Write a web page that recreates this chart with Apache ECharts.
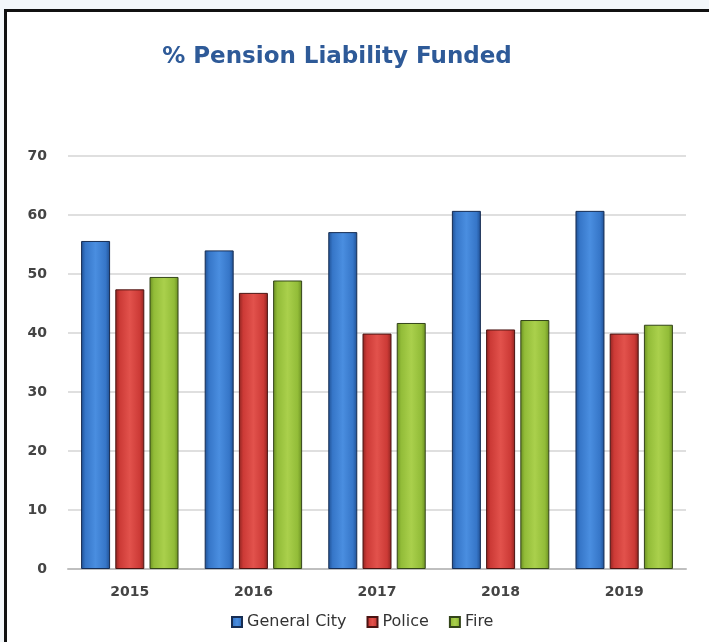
<!DOCTYPE html>
<html>
<head>
<meta charset="utf-8">
<script src="https://cdn.jsdelivr.net/npm/echarts@6/dist/echarts.min.js"></script>
<style>
  html, body { margin: 0; padding: 0; background: #fff; }
  #chart { width: 709px; height: 642px; }
</style>
</head>
<body>
<div id="chart"></div>
<script>
var years = ['2015', '2016', '2017', '2018', '2019'];
var generalCity = [55.6, 54.0, 57.1, 60.7, 60.7];
var police = [47.4, 46.8, 39.9, 40.6, 39.9];
var fire = [49.5, 48.9, 41.7, 42.2, 41.4];
var yTicks = [0, 10, 20, 30, 40, 50, 60, 70];

function barFill(edge, mid, light) {
    return new echarts.graphic.LinearGradient(0, 0, 1, 0, [
        { offset: 0, color: edge },
        { offset: 0.15, color: mid },
        { offset: 0.5, color: light },
        { offset: 0.85, color: mid },
        { offset: 1, color: edge }
    ]);
}

var chart = echarts.init(document.getElementById('chart'));

var option = {
    animation: false,
    backgroundColor: '#ffffff',
    title: {
        text: '% Pension Liability Funded',
        left: 332,
        textAlign: 'center',
        top: 41,
        textStyle: {
            fontFamily: 'DejaVu Sans',
            fontSize: 23,
            fontWeight: 'bold',
            color: '#2e5a98'
        }
    },
    graphic: [
        { type: 'rect', shape: { x: 0, y: 0, width: 709, height: 9 }, style: { fill: '#f3f7fa' }, silent: true },
        { type: 'rect', shape: { x: 0, y: 0, width: 4, height: 642 }, style: { fill: '#f3f7fa' }, silent: true },
        { type: 'line', shape: { x1: 4, y1: 10.5, x2: 709, y2: 10.5 }, style: { stroke: '#111', lineWidth: 3 }, silent: true },
        { type: 'line', shape: { x1: 5.5, y1: 9, x2: 5.5, y2: 642 }, style: { stroke: '#111', lineWidth: 3 }, silent: true }
    ],
    legend: {
        left: 226,
        top: 609,
        itemWidth: 10,
        itemHeight: 10,
        itemGap: 20,
        itemTextGap: 8,
        icon: 'rect',
        textStyle: {
            fontFamily: 'DejaVu Sans',
            fontSize: 16,
            color: '#333'
        },
        data: ['General City', 'Police', 'Fire']
    },
    grid: {
        left: 68,
        right: 23,
        top: 156,
        bottom: 73
    },
    xAxis: {
        type: 'category',
        data: years,
        axisLine: { lineStyle: { color: '#bfbfbf', width: 2 } },
        axisTick: { show: false },
        axisLabel: {
            margin: 16,
            fontFamily: 'DejaVu Sans',
            fontSize: 14,
            fontWeight: 'bold',
            color: '#444'
        }
    },
    yAxis: {
        type: 'value',
        min: yTicks[0],
        max: yTicks[yTicks.length - 1],
        interval: 10,
        axisLine: { show: false },
        axisTick: { show: false },
        axisLabel: {
            margin: 21,
            fontFamily: 'DejaVu Sans',
            fontSize: 14,
            fontWeight: 'bold',
            color: '#444'
        },
        splitLine: { lineStyle: { color: '#d4d4d4', width: 1.5 } }
    },
    series: [
        {
            name: 'General City',
            type: 'bar',
            barWidth: 29,
            barGap: '18%',
            itemStyle: {
                color: barFill('#1f4f92', '#3676c8', '#4a8ee0'),
                borderColor: '#172d52',
                borderWidth: 1
            },
            data: generalCity
        },
        {
            name: 'Police',
            type: 'bar',
            barWidth: 29,
            barGap: '18%',
            itemStyle: {
                color: barFill('#8e2420', '#cc3a36', '#e2524c'),
                borderColor: '#4a1412',
                borderWidth: 1
            },
            data: police
        },
        {
            name: 'Fire',
            type: 'bar',
            barWidth: 29,
            barGap: '18%',
            itemStyle: {
                color: barFill('#6a8e22', '#92bc38', '#aad04c'),
                borderColor: '#33441a',
                borderWidth: 1
            },
            data: fire
        }
    ]
};
chart.setOption(option);
</script>
</body>
</html>
